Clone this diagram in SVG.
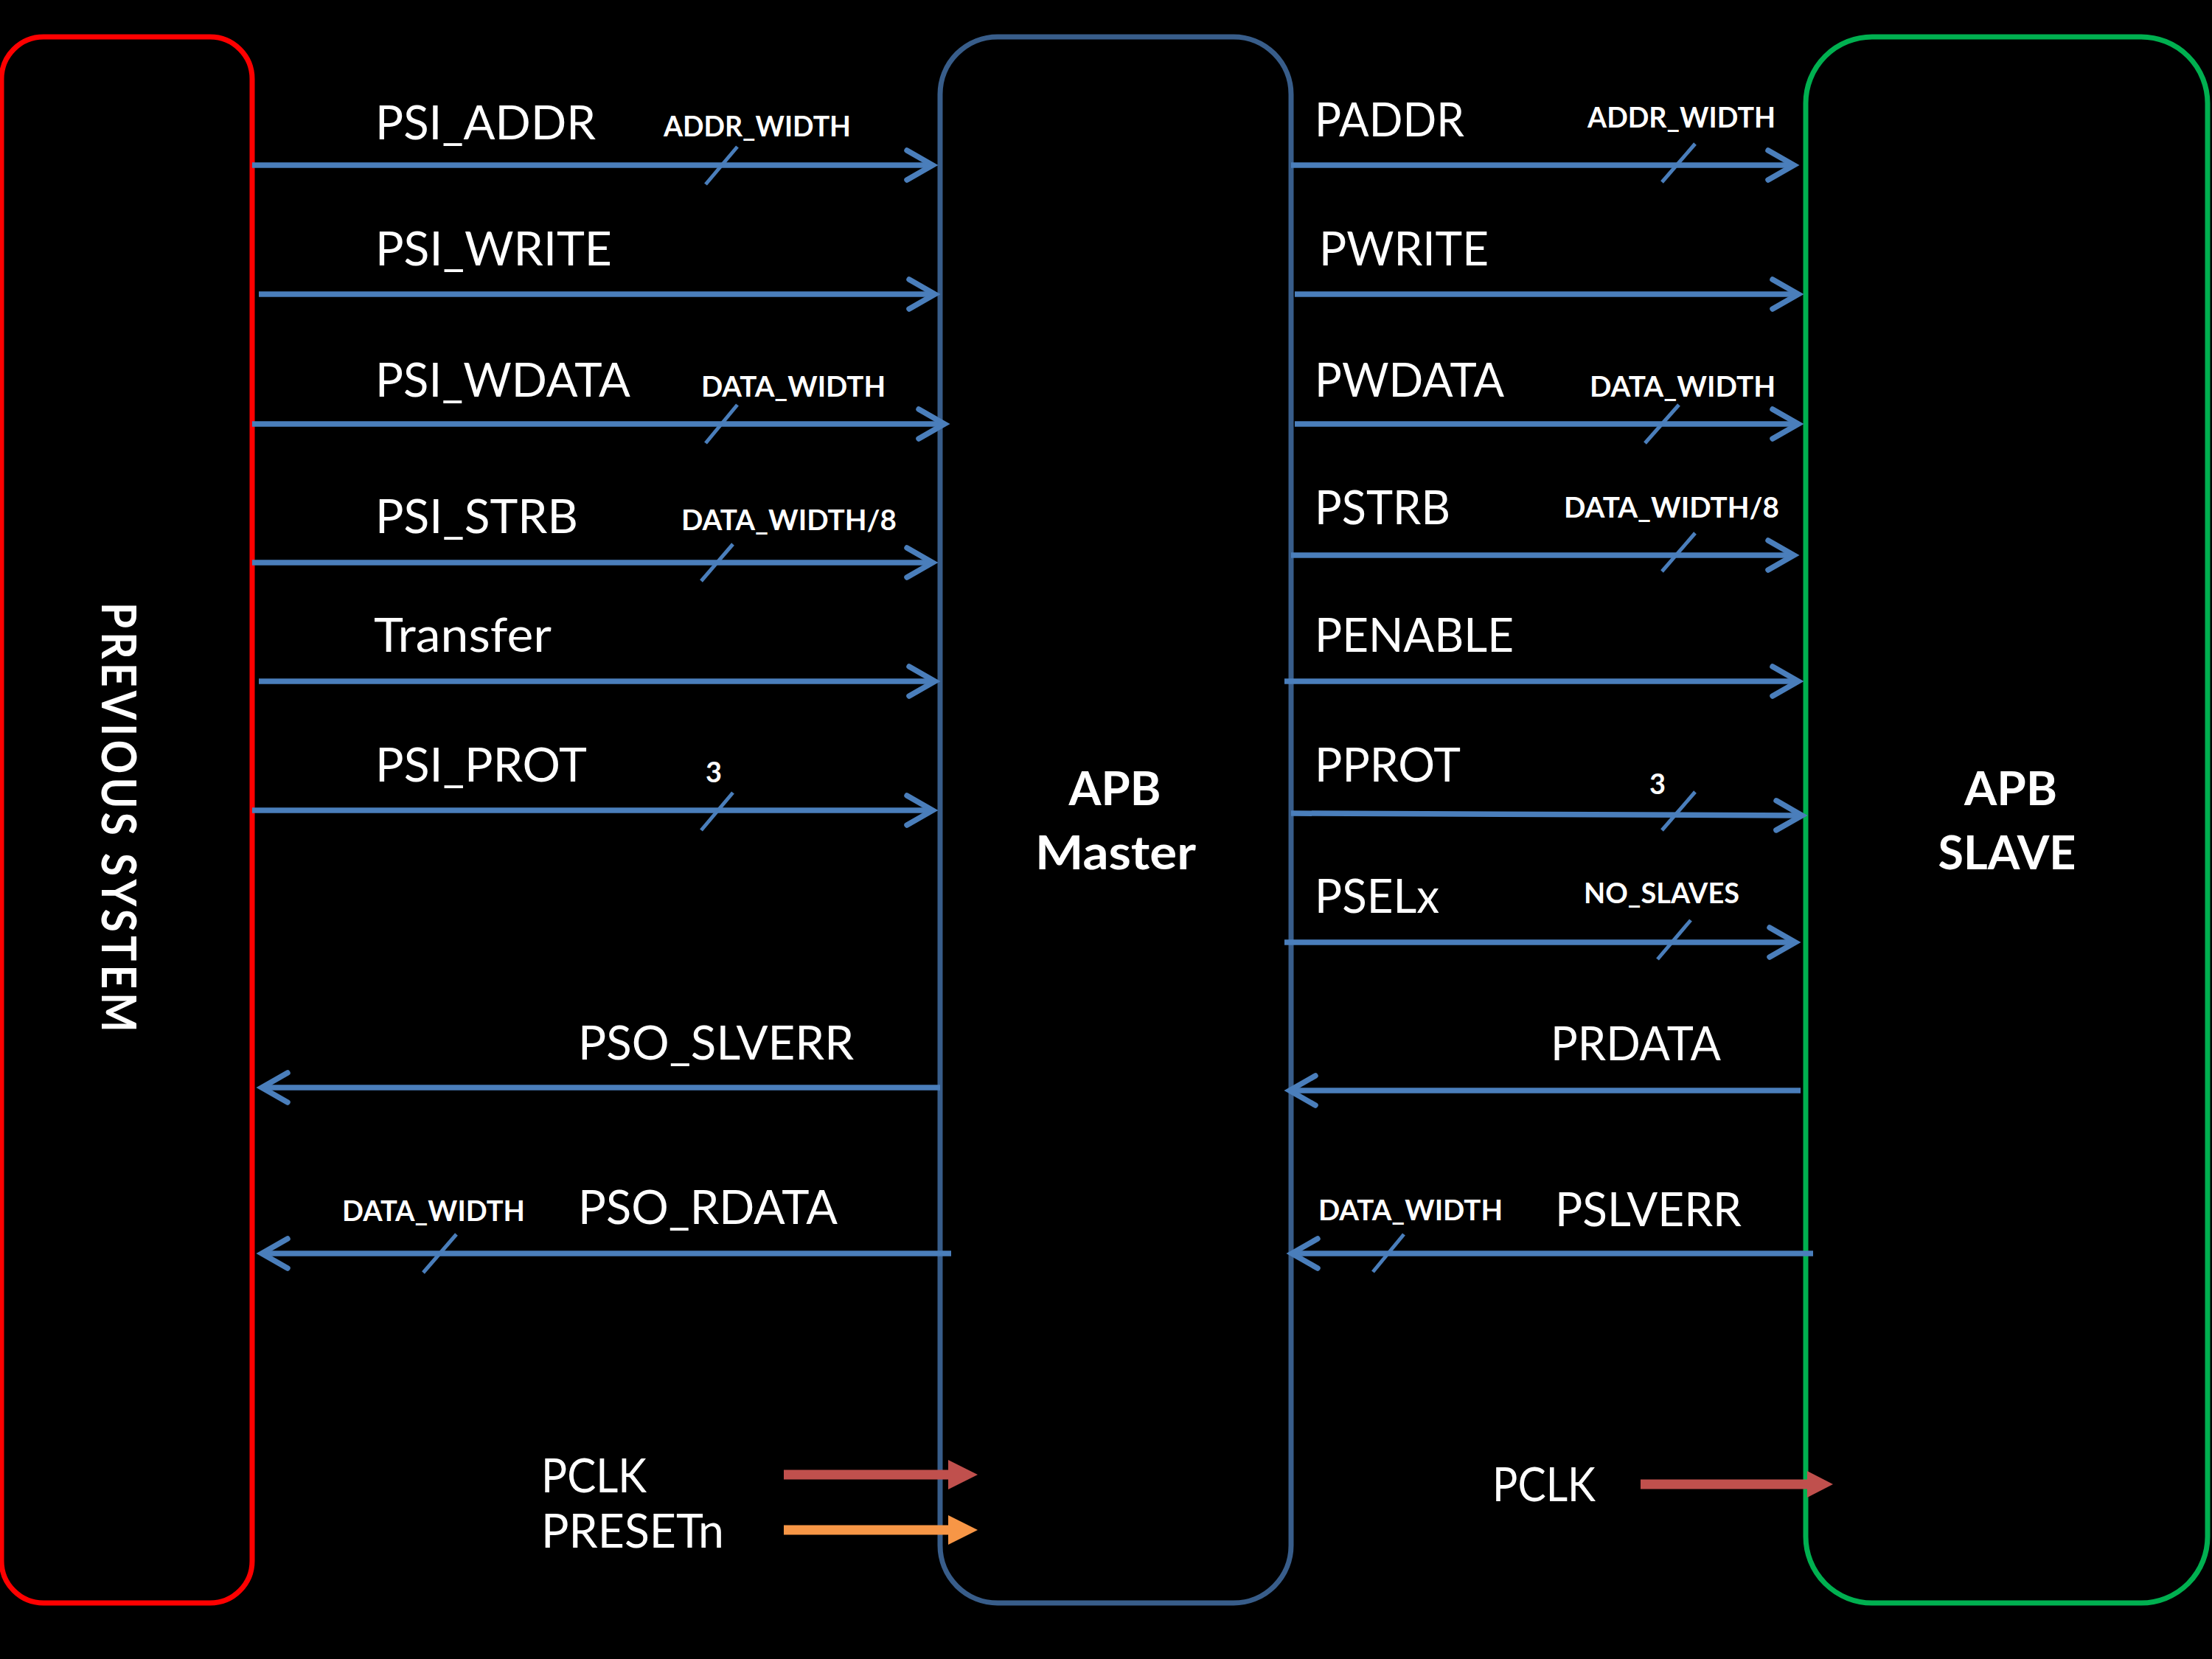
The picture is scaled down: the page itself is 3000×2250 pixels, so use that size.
<svg xmlns="http://www.w3.org/2000/svg" width="3000" height="2250" viewBox="0 0 3000 2250">
<style>
.lbl{font-family:Lato,"Liberation Sans",sans-serif;font-size:64px;fill:#FFFFFF}
.sml{font-family:Lato,"Liberation Sans",sans-serif;font-size:38px;font-weight:bold;fill:#FFFFFF}
.big{font-family:Lato,"Liberation Sans",sans-serif;font-size:64px;font-weight:bold;fill:#FFFFFF;text-anchor:middle}
.sig{stroke:#4A7EBB;stroke-width:7.5;fill:none;marker-end:url(#chev)}
.bus{stroke:#4A7EBB;stroke-width:5;fill:none}
</style>
<defs>
<marker id="chev" markerUnits="userSpaceOnUse" viewBox="-45 -30 70 60" markerWidth="70" markerHeight="60" refX="0" refY="0" orient="auto">
<path d="M-30,-20 L5,0 L-30,20" fill="none" stroke="#4A7EBB" stroke-width="7.5" stroke-linecap="round"/>
</marker>
</defs>
<rect width="3000" height="2250" fill="#000000"/>
<g id="previous-system">
<rect x="2" y="50" width="340" height="2124" rx="57" ry="57" fill="none" stroke="#FF0000" stroke-width="7"/>
<text transform="translate(138,1111) rotate(90)" x="0" y="0" text-anchor="middle" textLength="588" lengthAdjust="spacingAndGlyphs" style="font-family:Lato,'Liberation Sans',sans-serif;font-size:65px;font-weight:bold;letter-spacing:6px;fill:#FFFFFF">PREVIOUS  SYSTEM</text>
</g>
<g id="apb-master">
<rect x="1275" y="50" width="476" height="2124" rx="78" ry="78" fill="none" stroke="#385D8A" stroke-width="7"/>
<text class="big" x="1512" y="1092" textLength="125" lengthAdjust="spacingAndGlyphs">APB</text>
<text class="big" x="1513" y="1179" textLength="218" lengthAdjust="spacingAndGlyphs">Master</text>
</g>
<g id="apb-slave">
<rect x="2449" y="50" width="545" height="2124" rx="90" ry="90" fill="none" stroke="#00B050" stroke-width="7"/>
<text class="big" x="2727" y="1092" textLength="126" lengthAdjust="spacingAndGlyphs">APB</text>
<text class="big" x="2722" y="1179" textLength="187" lengthAdjust="spacingAndGlyphs">SLAVE</text>
</g>
<g id="connectors">
<line class="sig" x1="342" y1="224" x2="1260" y2="224"/>
<line class="sig" x1="351" y1="399" x2="1263" y2="399"/>
<line class="sig" x1="342" y1="575" x2="1276" y2="575"/>
<line class="sig" x1="342" y1="763" x2="1260" y2="763"/>
<line class="sig" x1="351" y1="924" x2="1263" y2="924"/>
<line class="sig" x1="342" y1="1099" x2="1260" y2="1099"/>
<line class="sig" x1="1751" y1="224" x2="2428" y2="224"/>
<line class="sig" x1="1756" y1="399" x2="2434" y2="399"/>
<line class="sig" x1="1756" y1="575" x2="2434" y2="575"/>
<line class="sig" x1="1751" y1="753" x2="2428" y2="753"/>
<line class="sig" x1="1742" y1="924" x2="2434" y2="924"/>
<line class="sig" x1="1751" y1="1103" x2="2439" y2="1106"/>
<line class="sig" x1="1742" y1="1278" x2="2430" y2="1278"/>
<line class="sig" x1="1275" y1="1475" x2="360" y2="1475"/>
<line class="sig" x1="1290" y1="1700" x2="360" y2="1700"/>
<line class="sig" x1="2442" y1="1479" x2="1754" y2="1479"/>
<line class="sig" x1="2459" y1="1700" x2="1757" y2="1700"/>
<line class="bus" x1="957" y1="250" x2="1000" y2="199"/>
<line class="bus" x1="957" y1="601" x2="1000" y2="549"/>
<line class="bus" x1="951" y1="788" x2="994" y2="738"/>
<line class="bus" x1="951" y1="1126" x2="994" y2="1075"/>
<line class="bus" x1="2254" y1="247" x2="2299" y2="195"/>
<line class="bus" x1="2231" y1="601" x2="2277" y2="549"/>
<line class="bus" x1="2254" y1="775" x2="2299" y2="723"/>
<line class="bus" x1="2254" y1="1126" x2="2299" y2="1074"/>
<line class="bus" x1="2248" y1="1301" x2="2293" y2="1248"/>
<line class="bus" x1="574" y1="1726" x2="619" y2="1674"/>
<line class="bus" x1="1862" y1="1725" x2="1904" y2="1674"/>
<path d="M1063,1993.5 H1286 V1980 L1326,2000 L1286,2020 V2006.5 H1063 Z" fill="#C0504D"/>
<path d="M1063,2068.5 H1286 V2055 L1326,2075 L1286,2095 V2081.5 H1063 Z" fill="#F79646"/>
<path d="M2225,2006.5 H2451 V1995 L2486,2013 L2451,2031 V2019.5 H2225 Z" fill="#C0504D"/>
</g>
<g id="labels">
<text class="lbl" x="509" y="189" textLength="299" lengthAdjust="spacingAndGlyphs">PSI_ADDR</text>
<text class="lbl" x="509" y="360" textLength="321" lengthAdjust="spacingAndGlyphs">PSI_WRITE</text>
<text class="lbl" x="509" y="538" textLength="346" lengthAdjust="spacingAndGlyphs">PSI_WDATA</text>
<text class="lbl" x="509" y="723" textLength="275" lengthAdjust="spacingAndGlyphs">PSI_STRB</text>
<text class="lbl" x="507" y="884" textLength="241" lengthAdjust="spacingAndGlyphs">Transfer</text>
<text class="lbl" x="509" y="1060" textLength="287" lengthAdjust="spacingAndGlyphs">PSI_PROT</text>
<text class="lbl" x="784" y="1437" textLength="374" lengthAdjust="spacingAndGlyphs">PSO_SLVERR</text>
<text class="lbl" x="784" y="1660" textLength="352" lengthAdjust="spacingAndGlyphs">PSO_RDATA</text>
<text class="lbl" x="734" y="2024" textLength="143" lengthAdjust="spacingAndGlyphs">PCLK</text>
<text class="lbl" x="734" y="2099" textLength="248" lengthAdjust="spacingAndGlyphs">PRESETn</text>
<text class="lbl" x="1783" y="185" textLength="203" lengthAdjust="spacingAndGlyphs">PADDR</text>
<text class="lbl" x="1789" y="360" textLength="230" lengthAdjust="spacingAndGlyphs">PWRITE</text>
<text class="lbl" x="1783" y="538" textLength="257" lengthAdjust="spacingAndGlyphs">PWDATA</text>
<text class="lbl" x="1783" y="711" textLength="184" lengthAdjust="spacingAndGlyphs">PSTRB</text>
<text class="lbl" x="1783" y="884" textLength="270" lengthAdjust="spacingAndGlyphs">PENABLE</text>
<text class="lbl" x="1783" y="1060" textLength="198" lengthAdjust="spacingAndGlyphs">PPROT</text>
<text class="lbl" x="1783" y="1238" textLength="169" lengthAdjust="spacingAndGlyphs">PSELx</text>
<text class="lbl" x="2103" y="1438" textLength="231" lengthAdjust="spacingAndGlyphs">PRDATA</text>
<text class="lbl" x="2109" y="1663" textLength="253" lengthAdjust="spacingAndGlyphs">PSLVERR</text>
<text class="lbl" x="2024" y="2036" textLength="140" lengthAdjust="spacingAndGlyphs">PCLK</text>
<text class="sml" x="900" y="185" textLength="254" lengthAdjust="spacingAndGlyphs">ADDR_WIDTH</text>
<text class="sml" x="951" y="538" textLength="250" lengthAdjust="spacingAndGlyphs">DATA_WIDTH</text>
<text class="sml" x="924" y="719" textLength="292" lengthAdjust="spacingAndGlyphs">DATA_WIDTH/8</text>
<text class="sml" x="957" y="1061">3</text>
<text class="sml" x="2153" y="173" textLength="255" lengthAdjust="spacingAndGlyphs">ADDR_WIDTH</text>
<text class="sml" x="2156" y="538" textLength="252" lengthAdjust="spacingAndGlyphs">DATA_WIDTH</text>
<text class="sml" x="2121" y="702" textLength="292" lengthAdjust="spacingAndGlyphs">DATA_WIDTH/8</text>
<text class="sml" x="2237" y="1077">3</text>
<text class="sml" x="2148" y="1225" textLength="211" lengthAdjust="spacingAndGlyphs">NO_SLAVES</text>
<text class="sml" x="464" y="1656" textLength="248" lengthAdjust="spacingAndGlyphs">DATA_WIDTH</text>
<text class="sml" x="1788" y="1655" textLength="250" lengthAdjust="spacingAndGlyphs">DATA_WIDTH</text>
</g>
</svg>
